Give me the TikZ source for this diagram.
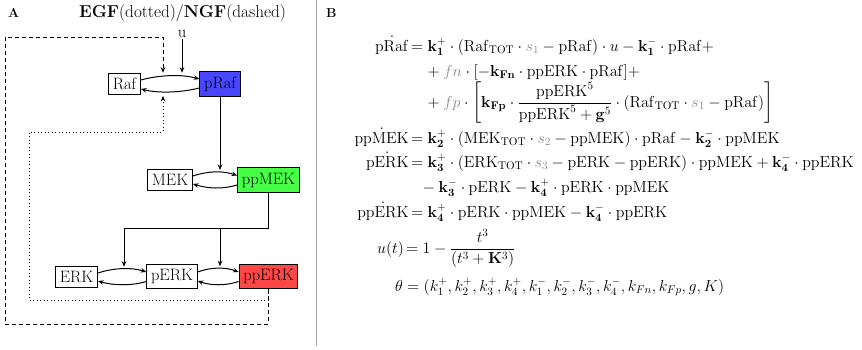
\documentclass[tikz,border=0pt]{standalone}
\usepackage{fix-cm}
\usepackage{amsmath}
\usetikzlibrary{arrows.meta,calc}
\newcommand{\gr}[1]{{\color{black!45}#1}}
\newcommand{\mr}[1]{\mathrm{#1}}
\tikzset{
  species/.style={draw=black, line width=1pt, inner xsep=4.3pt, inner ysep=4.8pt, font=\fontsize{16.5}{19}\selectfont},
  tip/.style={-{Stealth[length=5.5pt,width=4.5pt]}},
  arr/.style={line width=1pt, tip},
  conn/.style={line width=1pt},
  eq/.style={inner sep=0pt, font=\fontsize{15.9}{19}\selectfont},
  lbl/.style={font=\fontsize{13}{15}\selectfont\bfseries, anchor=base west, inner sep=0},
}
\begin{document}
\begin{tikzpicture}[x=1pt,y=-1pt]
\useasboundingbox (0,0) rectangle (862,349);
% panel labels
\node[lbl] (lA) at (8,17) {A};
\node[lbl] (lB) at (326,17) {B};
\node[font=\fontsize{17.2}{20}\selectfont, anchor=base, inner sep=0] (title) at (182.5,17) {\textbf{EGF}(dotted)/\textbf{NGF}(dashed)};
\draw[black!35, line width=0.8pt] (316,0) -- (316,346);
% nodes
\node[species] (Raf) at (124.5,84) {Raf};
\node[species, fill=blue!72] (pRaf) at (220,84) {pRaf};
\node[species] (MEK) at (170,180) {MEK};
\node[species, fill=green!72] (ppMEK) at (268.5,180) {ppMEK};
\node[species] (ERK) at (76.5,277) {ERK};
\node[species] (pERK) at (172,276.5) {pERK};
\node[species, fill=red!72] (ppERK) at (268.5,276.5) {ppERK};
\node[font=\fontsize{16.5}{19}\selectfont, inner sep=1pt] (u) at (182,34) {u};
% reversible reactions
\draw[arr] ([yshift=4pt]Raf.east) .. controls +(18,-5) and +(-18,-5) .. coordinate[pos=0.5] (c1) ([yshift=5pt]pRaf.west);
\draw[arr] ([yshift=-4pt]pRaf.west) .. controls +(-18,4.5) and +(18,4.5) .. coordinate[pos=0.5] (c1b) ([yshift=-5pt]Raf.east);
\draw[arr] ([yshift=4pt]MEK.east) .. controls +(15,-5) and +(-15,-5) .. coordinate[pos=0.5] (c2) ([yshift=4.5pt]ppMEK.west);
\draw[arr] ([yshift=-5pt]ppMEK.west) .. controls +(-15,4.5) and +(15,4.5) .. ([yshift=-4pt]MEK.east);
\draw[arr] ([yshift=4pt]ERK.east) .. controls +(15,-5) and +(-15,-5) .. coordinate[pos=0.5] (c3) ([yshift=4.5pt]pERK.west);
\draw[arr] ([yshift=-5pt]pERK.west) .. controls +(-15,4.5) and +(15,4.5) .. ([yshift=-4pt]ERK.east);
\draw[arr] ([yshift=4.5pt]pERK.east) .. controls +(13,-5) and +(-13,-5) .. coordinate[pos=0.5] (c4) ([yshift=4.5pt]ppERK.west);
\draw[arr] ([yshift=-5pt]ppERK.west) .. controls +(-13,4.5) and +(13,4.5) .. ([yshift=-4.5pt]pERK.east);
% activation arrows
\draw[arr] (u.south) -- ([yshift=3pt]u |- c1);
\draw[arr] (pRaf.south) -- ([yshift=2pt]pRaf.south |- c2);
\coordinate (j1) at (268.5,228);
\coordinate (j2) at (124,228);
\coordinate (j3) at (220,228);
\draw[conn] (ppMEK.south) -- (j1) -- (j2);
\draw[arr] (j2) -- ([yshift=2pt]j2 |- c3);
\draw[arr] (j3) -- ([yshift=2pt]j3 |- c4);
% feedbacks
\coordinate (d1) at (268.5,324);
\coordinate (d2) at (5,324);
\coordinate (d3) at (5,37);
\coordinate (d4) at (163,37);
\draw[line width=1pt, dash pattern=on 4pt off 3pt, tip] (ppERK.south) -- (d1) -- (d2) -- (d3) -- (d4) -- ([yshift=3pt]d4 |- c1);
\coordinate (p1) at (268.5,300);
\coordinate (p2) at (29,300);
\coordinate (p3) at (29,132);
\coordinate (p4) at (163,132);
\draw[line width=1pt, dash pattern=on 1pt off 2.5pt, tip] (ppERK.south) -- (p1) -- (p2) -- (p3) -- (p4) -- ([yshift=-4pt]p4 |- c1b);
% equations
\node[eq, anchor=base east] (l1) at (409,51) {$\dot{\mr{pRaf}}$};
\node[eq, anchor=base west] (r1) at (411,51) {$={}\mathbf{k_1^+}\cdot(\mr{Raf}_{\mr{TOT}}\cdot\gr{s_1}-\mr{pRaf})\cdot u-\mathbf{k_1^-}\cdot\mr{pRaf}+$};
\node[eq, anchor=base west] (r2) at (424,76) {${}+\gr{fn}\cdot[-\mathbf{k_{Fn}}\cdot\mr{ppERK}\cdot\mr{pRaf}]+$};
\node[eq, anchor=base west] (r3) at (424,107) {${}+\gr{fp}\cdot\left[\mathbf{k_{Fp}}\cdot\dfrac{\mr{ppERK}^5}{\mr{ppERK}^5+\mathbf{g}^5}\cdot(\mr{Raf}_{\mr{TOT}}\cdot\gr{s_1}-\mr{pRaf})\right]$};
\node[eq, anchor=base east] (l4) at (409,143) {$\dot{\mr{ppMEK}}$};
\node[eq, anchor=base west] (r4) at (411,143) {$={}\mathbf{k_2^+}\cdot(\mr{MEK}_{\mr{TOT}}\cdot\gr{s_2}-\mr{ppMEK})\cdot\mr{pRaf}-\mathbf{k_2^-}\cdot\mr{ppMEK}$};
\node[eq, anchor=base east] (l5) at (409,167) {$\dot{\mr{pERK}}$};
\node[eq, anchor=base west] (r5) at (411,167) {$={}\mathbf{k_3^+}\cdot(\mr{ERK}_{\mr{TOT}}\cdot\gr{s_3}-\mr{pERK}-\mr{ppERK})\cdot\mr{ppMEK}+\mathbf{k_4^-}\cdot\mr{ppERK}$};
\node[eq, anchor=base west] (r6) at (419,192) {${}-\mathbf{k_3^-}\cdot\mr{pERK}-\mathbf{k_4^+}\cdot\mr{pERK}\cdot\mr{ppMEK}$};
\node[eq, anchor=base east] (l7) at (409,217) {$\dot{\mr{ppERK}}$};
\node[eq, anchor=base west] (r7) at (411,217) {$={}\mathbf{k_4^+}\cdot\mr{pERK}\cdot\mr{ppMEK}-\mathbf{k_4^-}\cdot\mr{ppERK}$};
\node[eq, anchor=base east] (l8) at (404,253) {$u(t)$};
\node[eq, anchor=base west] (r8) at (406,253) {$=1-\dfrac{t^3}{(t^3+\mathbf{K}^3)}$};
\node[eq, anchor=base east] (l9) at (403,291) {$\theta$};
\node[eq, anchor=base west] (r9) at (407,291) {$=(k_1^+,k_2^+,k_3^+,k_4^+,k_1^-,k_2^-,k_3^-,k_4^-,k_{Fn},k_{Fp},g,K)$};
\end{tikzpicture}
\end{document}
